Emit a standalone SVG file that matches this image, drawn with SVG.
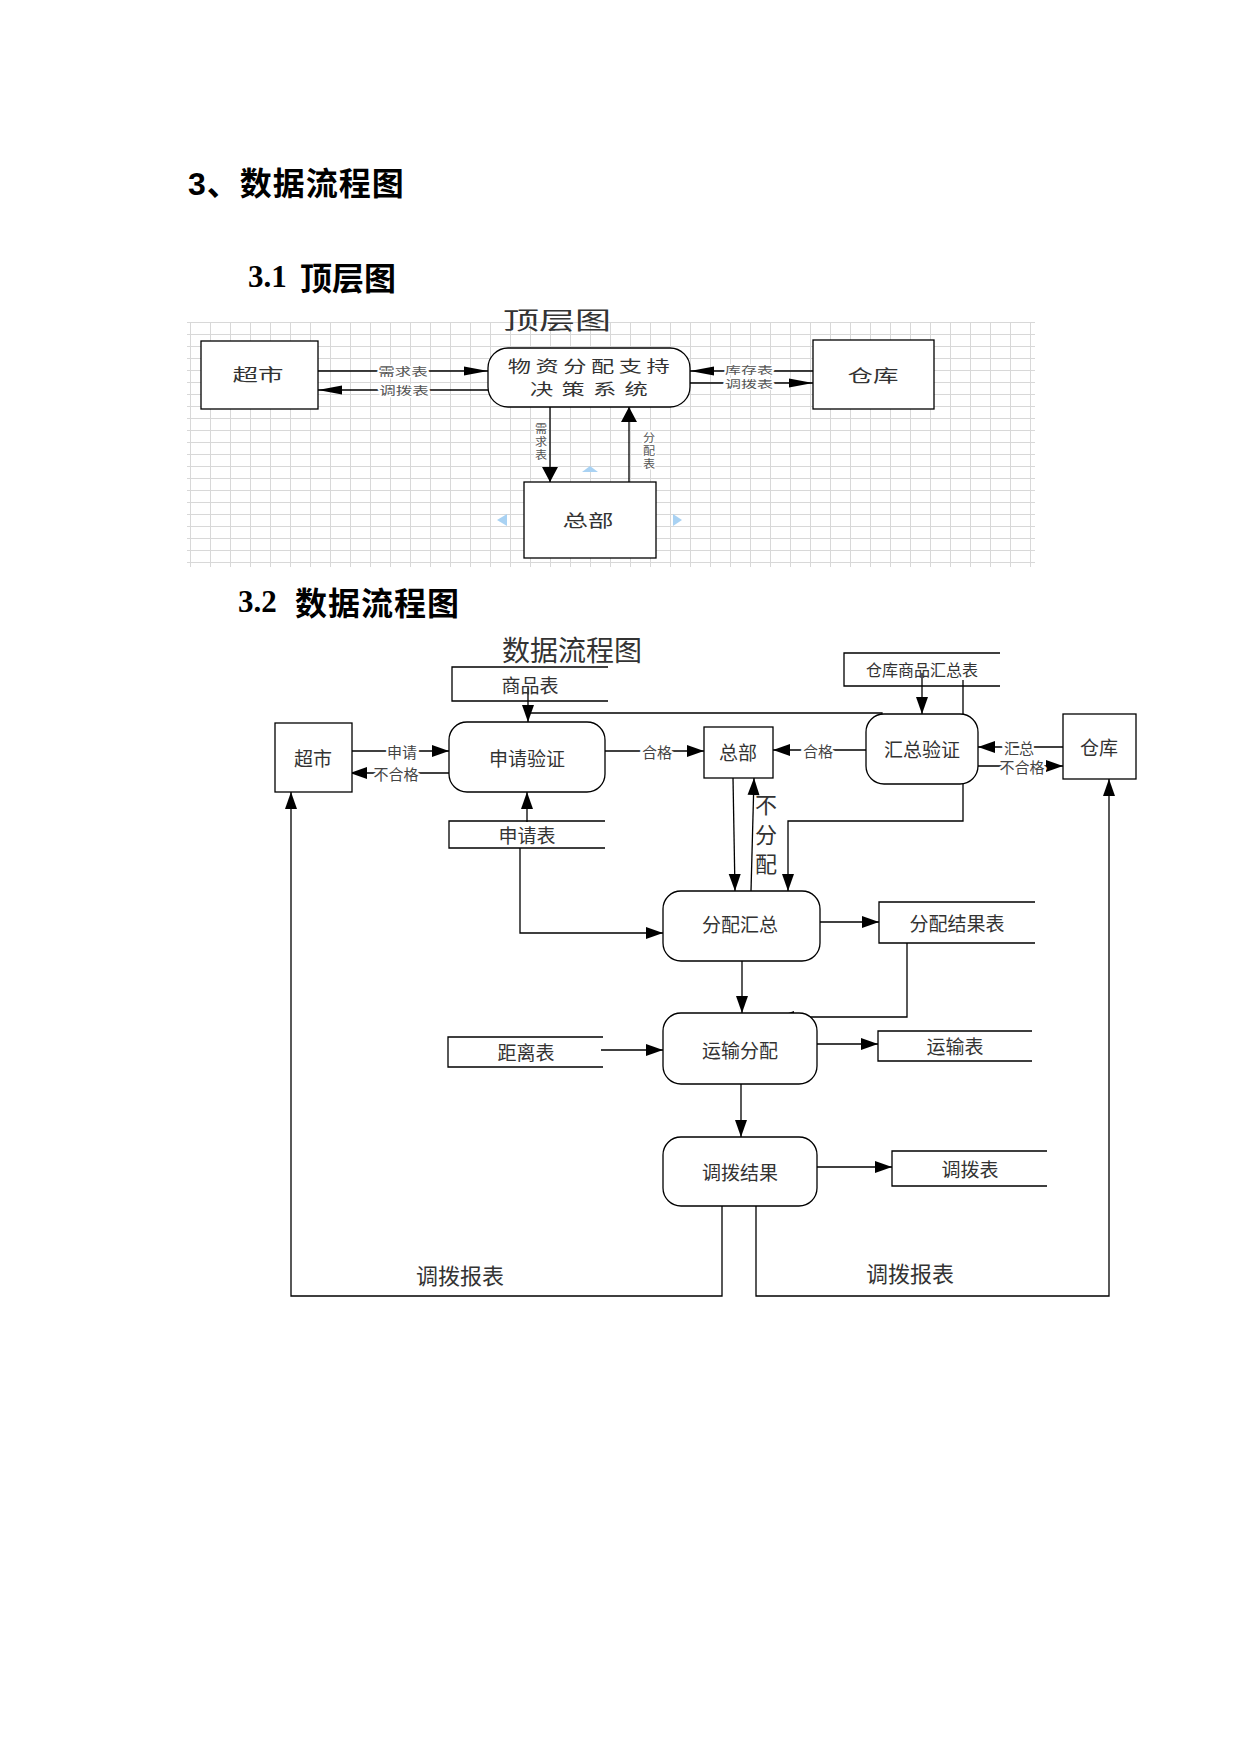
<svg xmlns="http://www.w3.org/2000/svg" width="1241" height="1754" viewBox="0 0 1241 1754">
<style>
.h{font-family:"Liberation Sans","Noto Sans CJK SC",sans-serif;font-weight:bold;font-size:32px;fill:#000;dominant-baseline:central}
.hs{font-family:"Liberation Serif","Noto Sans CJK SC",serif;font-weight:bold;font-size:31px;fill:#000;dominant-baseline:central}
.hc{font-family:"Noto Sans CJK SC",sans-serif;font-weight:bold;font-size:32px;fill:#000;dominant-baseline:central}
.n{font-family:"Noto Sans CJK SC",sans-serif;fill:#333;text-anchor:middle;dominant-baseline:central}
.f19{font-size:19px}
.f17{font-size:17px}
.f16{font-size:16px}
.f22{font-size:22px}
.lb{font-size:15px;fill:#444;paint-order:stroke;stroke:#fff;stroke-width:5px;stroke-linejoin:round}
.sl{font-size:11px;fill:#555;paint-order:stroke;stroke:#fff;stroke-width:3px;stroke-linejoin:round}
.sl10{font-size:10px}
.box{fill:#fff;stroke:#000;stroke-width:1.3}
.ln{fill:none;stroke:#000;stroke-width:1.3}
.ah{marker-end:url(#a)}
.th{marker-end:url(#th)}
.tv{marker-end:url(#tv)}
.blue{fill:#a9d2f3}
</style>
<defs>
<pattern id="grid" patternUnits="userSpaceOnUse" x="190" y="322" width="20" height="12">
<path d="M0.5 0V12M0 0.5H20" fill="none" stroke="#d8d8d8" stroke-width="1"/>
</pattern>
<marker id="a" markerUnits="userSpaceOnUse" markerWidth="18" markerHeight="12" refX="17" refY="6" orient="auto" overflow="visible"><path d="M0,0L17,6L0,12z" fill="#000"/></marker>
<marker id="th" markerUnits="userSpaceOnUse" markerWidth="24" markerHeight="9" refX="24" refY="4.5" orient="auto" overflow="visible"><path d="M0,0L24,4.5L0,9z" fill="#000"/></marker>
<marker id="tv" markerUnits="userSpaceOnUse" markerWidth="15" markerHeight="16" refX="15" refY="8" orient="auto" overflow="visible"><path d="M0,0L15,8L0,16z" fill="#000"/></marker>
</defs>
<rect width="1241" height="1754" fill="#fff"/>

<g id="headings">
<text class="h" x="188" y="184" letter-spacing="1">3、数据流程图</text>
<text x="248" y="276"><tspan class="hs">3.1</tspan><tspan class="hc" x="300">顶层图</tspan></text>
<text x="238" y="601"><tspan class="hs">3.2</tspan><tspan class="hc" x="295" letter-spacing="1">数据流程图</tspan></text>
</g>

<!-- Top level diagram -->
<g id="top-grid">
<rect x="187" y="322" width="848" height="245" fill="url(#grid)"/>
</g>
<g id="top-title">
<text class="n" font-size="24" fill="#222" transform="translate(557,319) scale(1.5,1)">顶层图</text>
</g>
<g id="top-connectors">
<line class="ln th" x1="318" y1="371" x2="488" y2="371"/>
<line class="ln th" x1="488" y1="390" x2="318" y2="390"/>
<line class="ln th" x1="813" y1="371" x2="690" y2="371"/>
<line class="ln th" x1="690" y1="383" x2="813" y2="383"/>
<line class="ln tv" x1="550" y1="407" x2="550" y2="482"/>
<line class="ln tv" x1="629" y1="482" x2="629" y2="407"/>
<text class="n sl" transform="translate(403,371) scale(1.5,1)">需求表</text>
<text class="n sl" transform="translate(404,390) scale(1.5,1)">调拨表</text>
<text class="n sl sl10" transform="translate(749,369.5) scale(1.6,1)">库存表</text>
<text class="n sl sl10" transform="translate(749,384) scale(1.6,1)">调拨表</text>
<text class="n sl" transform="translate(541,0) scale(1.1,1)"><tspan x="0" y="428">需</tspan><tspan x="0" y="441">求</tspan><tspan x="0" y="454">表</tspan></text>
<text class="n sl" transform="translate(649,0) scale(1.1,1)"><tspan x="0" y="437">分</tspan><tspan x="0" y="450">配</tspan><tspan x="0" y="463">表</tspan></text>
</g>
<g id="top-supermarket">
<rect class="box" x="201" y="341" width="117" height="68"/>
<text class="n f17" fill="#222" transform="translate(258,374) scale(1.5,1)">超市</text>
</g>
<g id="top-system">
<rect class="box" x="488" y="348" width="202" height="59" rx="20"/>
<text class="n" font-size="15.5" fill="#222" letter-spacing="3" transform="translate(591,365.5) scale(1.5,1)">物资分配支持</text>
<text class="n" font-size="15.5" fill="#222" letter-spacing="5.5" transform="translate(593,388.5) scale(1.5,1)">决策系统</text>
</g>
<g id="top-hq">
<rect class="box" x="524" y="482" width="132" height="76"/>
<text class="n f17" fill="#222" transform="translate(588,520) scale(1.5,1)">总部</text>
</g>
<g id="top-warehouse">
<rect class="box" x="813" y="340" width="121" height="69"/>
<text class="n f17" fill="#222" transform="translate(873,375) scale(1.5,1)">仓库</text>
</g>
<g id="top-handles">
<polygon class="blue" points="582,472 598,472 590,466"/>
<polygon class="blue" points="497,520 507,514 507,526"/>
<polygon class="blue" points="673,514 673,526 682,520"/>
</g>

<!-- Data flow diagram -->
<g id="dfd-title">
<text class="n" font-size="28" fill="#222" x="572" y="649">数据流程图</text>
</g>

<g id="dfd-connectors">
<line class="ln ah" x1="528" y1="688" x2="528" y2="722"/>
<path class="ln ah" d="M528,713H882V735"/>
<line class="ln ah" x1="922" y1="673" x2="922" y2="714"/>
<line class="ln ah" x1="352" y1="751" x2="449" y2="751"/>
<line class="ln ah" x1="449" y1="773" x2="350" y2="773"/>
<line class="ln ah" x1="605" y1="751" x2="704" y2="751"/>
<line class="ln ah" x1="866" y1="750" x2="773" y2="750"/>
<line class="ln ah" x1="1063" y1="747" x2="978" y2="747"/>
<line class="ln ah" x1="978" y1="766" x2="1063" y2="766"/>
<line class="ln ah" x1="527" y1="822" x2="527" y2="792"/>
<line class="ln ah" x1="733" y1="778" x2="735" y2="891"/>
<line class="ln ah" x1="751" y1="891" x2="754" y2="778"/>
<path class="ln ah" d="M963,680V821H788V891"/>
<path class="ln ah" d="M520,848V933H663"/>
<line class="ln ah" x1="820" y1="922" x2="879" y2="922"/>
<path class="ln ah" d="M907,943V1017H777"/>
<line class="ln ah" x1="742" y1="961" x2="742" y2="1013"/>
<line class="ln ah" x1="601" y1="1050" x2="663" y2="1050"/>
<line class="ln ah" x1="817" y1="1044" x2="878" y2="1044"/>
<line class="ln ah" x1="741" y1="1084" x2="741" y2="1137"/>
<line class="ln ah" x1="817" y1="1167" x2="892" y2="1167"/>
<path class="ln ah" d="M722,1206V1296H291V792"/>
<path class="ln ah" d="M756,1206V1296H1109V779"/>
<text class="n lb" x="402" y="751">申请</text>
<text class="n lb" x="396" y="773">不合格</text>
<text class="n lb" x="657" y="751">合格</text>
<text class="n lb" x="818" y="750">合格</text>
<text class="n lb" x="1019" y="747">汇总</text>
<text class="n lb" x="1022" y="766">不合格</text>
<text class="n f22"><tspan x="766" y="803">不</tspan><tspan x="766" y="833">分</tspan><tspan x="766" y="862">配</tspan></text>
<text class="n f22" x="460" y="1274">调拨报表</text>
<text class="n f22" x="910" y="1272">调拨报表</text>
</g>

<g id="store-goods">
<path class="ln" d="M608,667H452V701H608"/>
<text class="n f19" x="530" y="684">商品表</text>
</g>
<g id="store-apply">
<path class="ln" d="M605,821H449V848H605"/>
<text class="n f19" x="527" y="834">申请表</text>
</g>
<g id="store-whsum">
<path class="ln" d="M1000,653H844V686H1000"/>
<text class="n f16" x="922" y="669">仓库商品汇总表</text>
</g>
<g id="store-allocres">
<path class="ln" d="M1035,902H879V943H1035"/>
<text class="n f19" x="957" y="922">分配结果表</text>
</g>
<g id="store-distance">
<path class="ln" d="M603,1037H448V1067H603"/>
<text class="n f19" x="526" y="1051">距离表</text>
</g>
<g id="store-transport">
<path class="ln" d="M1032,1031H878V1061H1032"/>
<text class="n f19" x="955" y="1045">运输表</text>
</g>
<g id="store-transfer">
<path class="ln" d="M1047,1151H892V1186H1047"/>
<text class="n f19" x="970" y="1168">调拨表</text>
</g>

<g id="proc-apply">
<rect class="box" x="449" y="722" width="156" height="70" rx="18"/>
<text class="n f19" x="527" y="757">申请验证</text>
</g>
<g id="proc-sumcheck">
<rect class="box" x="866" y="714" width="112" height="70" rx="18"/>
<text class="n f19" x="922" y="748">汇总验证</text>
</g>
<g id="proc-allocsum">
<rect class="box" x="663" y="891" width="157" height="70" rx="18"/>
<text class="n f19" x="740" y="923">分配汇总</text>
</g>
<g id="proc-transport">
<rect class="box" x="663" y="1013" width="154" height="71" rx="18"/>
<text class="n f19" x="740" y="1049">运输分配</text>
</g>
<g id="proc-transfer">
<rect class="box" x="663" y="1137" width="154" height="69" rx="18"/>
<text class="n f19" x="740" y="1171">调拨结果</text>
</g>

<g id="ent-supermarket">
<rect class="box" x="275" y="723" width="77" height="69"/>
<text class="n f19" x="313" y="757">超市</text>
</g>
<g id="ent-hq">
<rect class="box" x="704" y="727" width="69" height="51"/>
<text class="n f19" x="738" y="751">总部</text>
</g>
<g id="ent-warehouse">
<rect class="box" x="1063" y="714" width="73" height="65"/>
<text class="n f19" x="1099" y="746">仓库</text>
</g>
</svg>
